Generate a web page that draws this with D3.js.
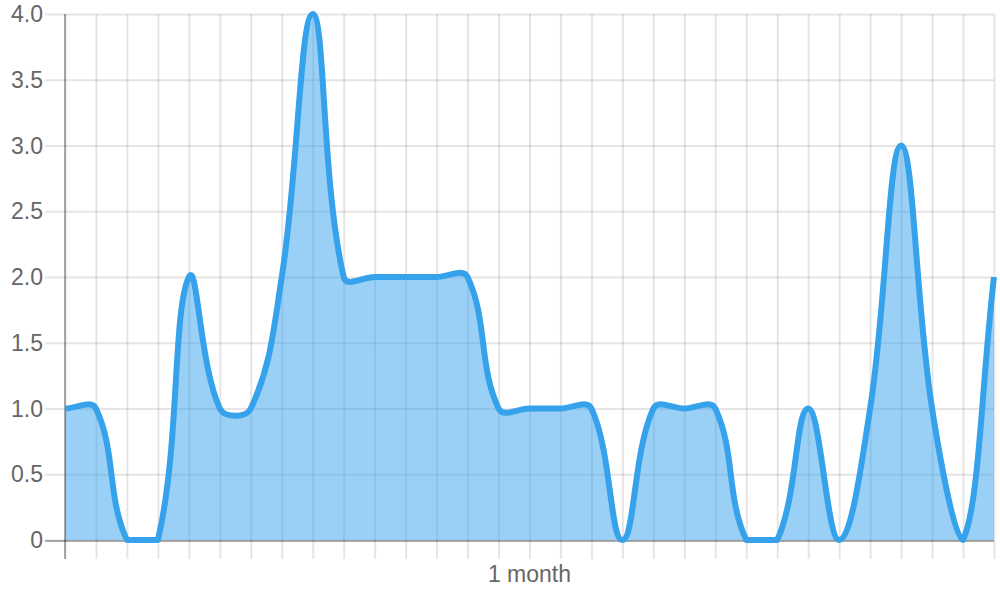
<!DOCTYPE html>
<html>
<head>
<meta charset="utf-8">
<script src="https://cdn.jsdelivr.net/npm/d3@7"></script>
<style>
  html, body { margin: 0; padding: 0; background: #fff; }
  svg { display: block; }
  text { font-family: "Liberation Sans", Arial, Helvetica, sans-serif; fill: #666; }
</style>
</head>
<body>
<svg id="chart" width="1000" height="600"></svg>
<script>
// ---- data ----
const xTickLabels = ["", "", "", "", "", "", "", "", "", "", "", "", "", "", "", "1 month",
                     "", "", "", "", "", "", "", "", "", "", "", "", "", "", ""];
const seriesValues = [1, 1, 0, 0, 2, 1, 1, 2, 4, 2, 2, 2, 2, 2, 1, 1, 1, 1, 0, 1, 1, 1, 0, 0, 1, 0, 1, 3, 1, 0, 2];
const yTickValues = [0, 0.5, 1, 1.5, 2, 2.5, 3, 3.5, 4];

// ---- layout ----
const area = { left: 65, right: 994, top: 14, bottom: 540 };
const tension = 0.4;

const svg = d3.select("#chart");
const x = d3.scaleLinear().domain([0, seriesValues.length - 1]).range([area.left, area.right]);
const y = d3.scaleLinear().domain([0, 4]).range([area.bottom, area.top]);

const gridColor = "rgba(0,0,0,0.1)";
const axisColor = "rgba(0,0,0,0.3)";

// horizontal grid (with left ticks)
const yAxis = d3.axisLeft(y)
  .tickValues(yTickValues)
  .tickSize(-(area.right - area.left))
  .tickPadding(0)
  .tickFormat(() => "");
const gy = svg.append("g").attr("transform", `translate(${area.left},0)`).call(yAxis);
gy.select(".domain").remove();
gy.selectAll(".tick line").attr("stroke", gridColor).attr("stroke-width", 2).attr("x1", -20);

// vertical grid (with bottom ticks)
const xAxis = d3.axisBottom(x)
  .tickValues(d3.range(seriesValues.length))
  .tickSize(-(area.bottom - area.top))
  .tickFormat(() => "");
const gx = svg.append("g").attr("transform", `translate(0,${area.bottom})`).call(xAxis);
gx.select(".domain").remove();
gx.selectAll(".tick line").attr("stroke", gridColor).attr("stroke-width", 2).attr("y1", 19);

// ---- Chart.js style spline ----
const pts = seriesValues.map((v, i) => ({ x: x(i), y: y(v) }));
function clamp(v, lo, hi) { return Math.max(lo, Math.min(hi, v)); }
pts.forEach((cur, i) => {
  const prev = pts[i - 1] || cur;
  const next = pts[i + 1] || cur;
  const d01 = Math.hypot(cur.x - prev.x, cur.y - prev.y);
  const d12 = Math.hypot(next.x - cur.x, next.y - cur.y);
  let s01 = d01 / (d01 + d12), s12 = d12 / (d01 + d12);
  if (isNaN(s01)) s01 = 0;
  if (isNaN(s12)) s12 = 0;
  const fa = tension * s01, fb = tension * s12;
  cur.cpPrev = {
    x: clamp(cur.x - fa * (next.x - prev.x), area.left, area.right),
    y: clamp(cur.y - fa * (next.y - prev.y), area.top, area.bottom)
  };
  cur.cpNext = {
    x: clamp(cur.x + fb * (next.x - prev.x), area.left, area.right),
    y: clamp(cur.y + fb * (next.y - prev.y), area.top, area.bottom)
  };
});
function tracePath(p) {
  p.moveTo(pts[0].x, pts[0].y);
  for (let i = 1; i < pts.length; i++) {
    const a = pts[i - 1], b = pts[i];
    p.bezierCurveTo(a.cpNext.x, a.cpNext.y, b.cpPrev.x, b.cpPrev.y, b.x, b.y);
  }
  return p;
}

// fill
const fillPath = tracePath(d3.path());
fillPath.lineTo(pts[pts.length - 1].x, y(0));
fillPath.lineTo(pts[0].x, y(0));
fillPath.closePath();
svg.append("path").attr("d", fillPath.toString()).attr("fill", "rgba(54,162,235,0.5)");

// axis lines
svg.append("line").attr("x1", area.left).attr("x2", area.left).attr("y1", area.top).attr("y2", area.bottom + 19)
  .attr("stroke", axisColor).attr("stroke-width", 2);
svg.append("line").attr("x1", area.left - 20).attr("x2", area.right).attr("y1", area.bottom + 1).attr("y2", area.bottom + 1)
  .attr("stroke", axisColor).attr("stroke-width", 2);

// line
svg.append("path").attr("d", tracePath(d3.path()).toString())
  .attr("fill", "none").attr("stroke", "rgb(54,162,235)").attr("stroke-width", 6)
  .attr("stroke-linejoin", "round").attr("stroke-linecap", "butt");

// y labels
svg.append("g").selectAll("text").data(yTickValues).join("text")
  .attr("x", 43).attr("y", d => y(d)).attr("dy", "0.35em")
  .attr("text-anchor", "end").attr("font-size", 23)
  .text(d => d === 0 ? "0" : d.toFixed(1));

// x labels
svg.append("g").selectAll("text").data(xTickLabels.map((l, i) => ({ l, i })).filter(d => d.l)).join("text")
  .attr("x", d => x(d.i)).attr("y", 582)
  .attr("text-anchor", "middle").attr("font-size", 23)
  .text(d => d.l);
</script>
</body>
</html>
